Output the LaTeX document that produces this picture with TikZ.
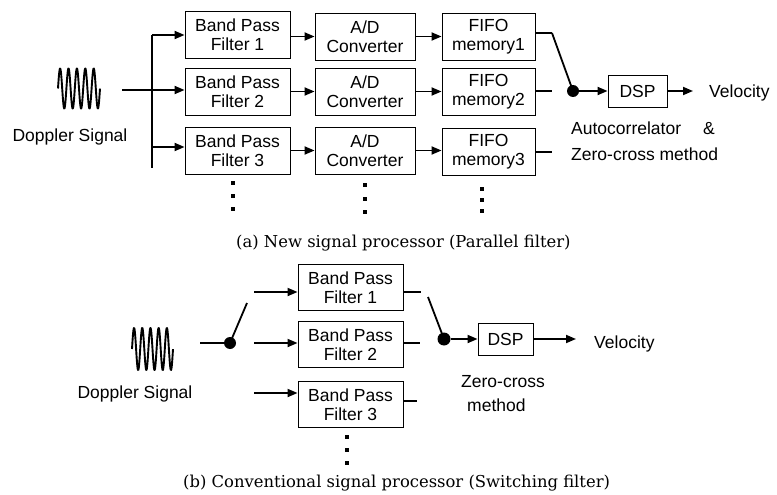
\documentclass[tikz,border=0pt]{standalone}
\usepackage{fontspec}
\setmainfont{Liberation Sans}
\newfontfamily\capfont{DejaVu Serif}
\usetikzlibrary{arrows.meta,calc}
\begin{document}
\begin{tikzpicture}[x=1pt,y=-1pt,
  lbl/.style={font=\fontsize{17.5}{19}\selectfont, inner sep=0pt},
  blk/.style={draw, line width=0.9pt, minimum width=#1, minimum height=47pt, inner sep=0pt,
              font=\fontsize{17.5}{19}\selectfont, align=center},
  capt/.style={font=\capfont\fontsize{16.4}{19}\selectfont, inner sep=0pt},
  conn/.style={line width=1.8pt},
  arr/.style={conn, -{Triangle[length=10pt,width=8pt]}},
  dotn/.style={circle, fill, inner sep=0pt, minimum size=12pt},
  wave/.style={line width=1.9pt, line join=round}]
\useasboundingbox (0,0) rectangle (777,495);

% ---------- (a) ----------
\draw[wave] plot[domain=0:42, samples=300] ({58+\x}, {88.5-20*sin(42.857*\x)});
\node[lbl, anchor=base] (dop1) at (70,142) {Doppler Signal};

\node[blk=105pt] (bpf1) at (237.5,35) {Band Pass\\Filter 1};
\node[blk=105pt] (bpf2) at (237.5,91.5) {Band Pass\\Filter 2};
\node[blk=105pt] (bpf3) at (237.5,151) {Band Pass\\Filter 3};
\node[blk=100pt] (ad1) at (365,36.5) {A/D\\Converter};
\node[blk=100pt] (ad2) at (365,91.5) {A/D\\Converter};
\node[blk=100pt] (ad3) at (365,150.5) {A/D\\Converter};
\node[blk=93pt] (ff1) at (488.5,36.5) {FIFO\\memory1};
\node[blk=93pt] (ff2) at (488.5,92) {FIFO\\memory2};
\node[blk=93pt] (ff3) at (488.5,151.5) {FIFO\\memory3};

\coordinate (in1) at (122,90);
\coordinate (jt) at (152,35);
\coordinate (j3) at (152,147);
\coordinate (jb) at (152,168);
\draw[conn] (jt) -- (jb);
\draw[arr] (in1) -- (in1 -| bpf2.west);
\draw[arr] (jt) -- (jt -| bpf1.west);
\draw[arr] (j3) -- (j3 -| bpf3.west);

\foreach \i in {1,2,3}{
  \draw[arr] (bpf\i.east |- ad\i.west) -- (ad\i.west);
  \draw[arr] (ad\i.east) -- (ad\i.east -| ff\i.west);
}

\coordinate (s1) at (552,33);
\coordinate (s2) at (552,91);
\coordinate (s3) at (552,152);
\draw[conn] (s1 -| ff1.east) -- (s1);
\draw[conn] (s2 -| ff2.east) -- (s2);
\draw[conn] (s3 -| ff3.east) -- (s3);
\node[dotn] (d1) at (573,91) {};
\draw[conn] (s1) -- (d1.center);
\node[blk=59pt, minimum height=32pt] (dsp1) at (637.5,91) {DSP};
\draw[arr] (d1) -- (dsp1);
\coordinate (v1) at (693,91);
\draw[arr] (dsp1) -- (v1);
\node[lbl, anchor=base west] (vel1) at (709,98) {Velocity};
\node[lbl, anchor=base west] (ac1) at (571,135) {Autocorrelator\hspace{22pt}\&};
\node[lbl, anchor=base west] (zc1) at (571,160) {Zero-cross method};

\foreach \x/\y in {233/183,233/196,233/209,365/185,365/199,365/212,482/189,482/200,482/211}
  \fill (\x-1.8,\y-1.8) rectangle ++(3.6,3.6);

\node[capt, anchor=base west] (capa) at (236,247) {(a) New signal processor (Parallel filter)};

% ---------- (b) ----------
\draw[wave] plot[domain=0:41, samples=300] ({132+\x}, {349-21*sin(43.9*\x)});
\node[lbl, anchor=base] (dop2) at (135,398) {Doppler Signal};

\coordinate (in2) at (200,343);
\node[dotn] (d2) at (230,343) {};
\coordinate (sw2) at (247,303);
\draw[conn] (in2) -- (d2.center);
\draw[conn] (d2.center) -- (sw2);

\node[blk=105pt, minimum height=46pt] (bb1) at (350.5,287.5) {Band Pass\\Filter 1};
\node[blk=105pt, minimum height=46pt] (bb2) at (350.5,344.5) {Band Pass\\Filter 2};
\node[blk=105pt, minimum height=46pt] (bb3) at (350.5,404.5) {Band Pass\\Filter 3};

\coordinate (t1) at (254,292);
\coordinate (t2) at (254,343);
\coordinate (t3) at (254,393);
\draw[arr] (t1) -- (t1 -| bb1.west);
\draw[arr] (t2) -- (t2 -| bb2.west);
\draw[arr] (t3) -- (t3 -| bb3.west);

\coordinate (o1) at (421,292);
\coordinate (o2) at (420,343);
\coordinate (o3) at (417,401);
\draw[conn] (o1 -| bb1.east) -- (o1);
\draw[conn] (o2 -| bb2.east) -- (o2);
\draw[conn] (o3 -| bb3.east) -- (o3);

\coordinate (sw3) at (428,297);
\node[dotn, minimum size=13pt] (d3) at (444,339) {};
\draw[conn] (sw3) -- (d3.center);
\node[blk=55pt, minimum height=32pt] (dsp2) at (505.5,339) {DSP};
\draw[arr] (d3) -- (dsp2);
\coordinate (v2) at (576,339);
\draw[arr] (dsp2) -- (v2);
\node[lbl, anchor=base west] (vel2) at (594,348) {Velocity};
\node[lbl, anchor=base west] (zc2) at (461,387) {Zero-cross};
\node[lbl, anchor=base west] (me2) at (467,411) {method};

\foreach \y in {437,450,463}
  \fill (347-1.8,\y-1.8) rectangle ++(3.6,3.6);

\node[capt, anchor=base west] (capb) at (183,487) {(b) Conventional signal processor (Switching filter)};
\end{tikzpicture}
\end{document}
